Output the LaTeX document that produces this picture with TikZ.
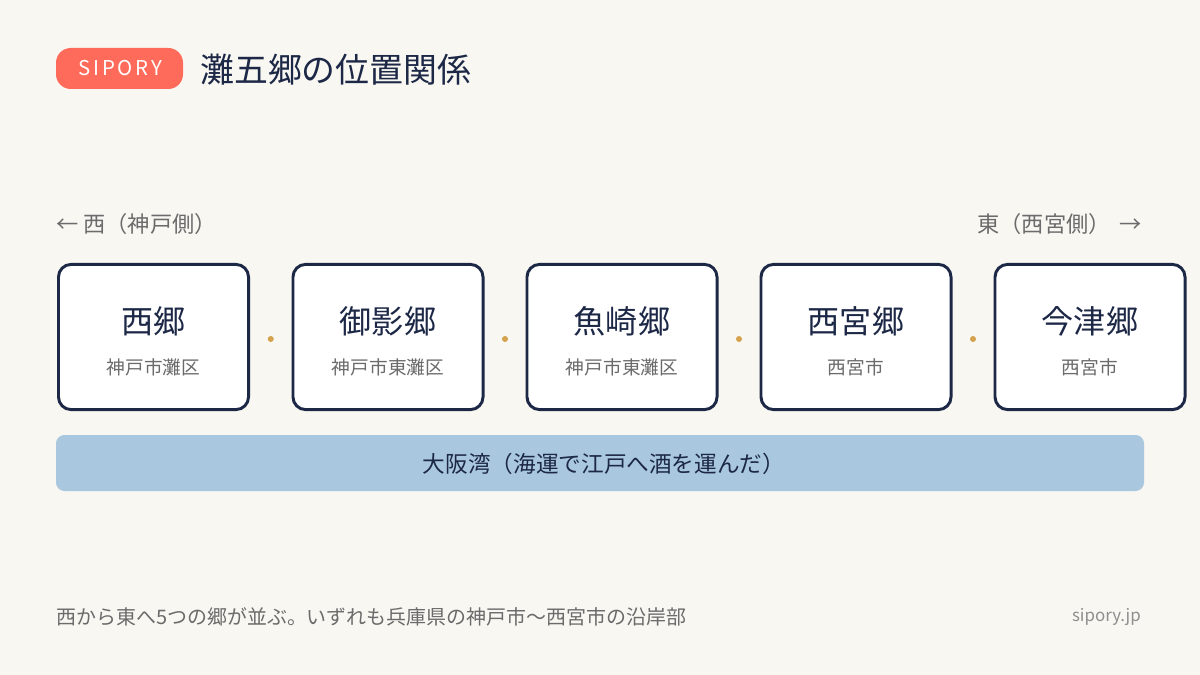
\documentclass[tikz,border=0pt]{standalone}
\usepackage{fontspec}
\setmainfont{Noto Sans CJK JP}
\usetikzlibrary{calc}
\definecolor{bgpaper}{HTML}{F9F7F2}
\definecolor{navy}{HTML}{1C2846}
\definecolor{coral}{HTML}{FF6B5A}
\definecolor{greytext}{HTML}{6B6B6B}
\definecolor{lightgrey}{HTML}{8E8E8E}
\definecolor{bay}{HTML}{A9C7DF}
\definecolor{gold}{HTML}{D4A24C}
\tikzset{
	gobox/.style={draw=navy, fill=white, line width=2.1pt, rounded corners=9pt, minimum width=4.75cm, minimum height=3.63cm},
	goname/.style={text=navy, font=\fontsize{22.8pt}{26pt}\selectfont},
	gosub/.style={text=greytext, font=\fontsize{13.3pt}{15pt}\selectfont},
	side/.style={text=greytext, font=\fontsize{15.8pt}{18pt}\selectfont},
}
\begin{document}
\begin{tikzpicture}[x=0.025cm, y=-0.025cm]
			%%%%% START %%%%%
			
			\useasboundingbox[fill=bgpaper] (0, 0) rectangle (1200, 675);
			
			% header
			\fill[coral, rounded corners=10.5pt] (56, 48) rectangle (183, 89);
			\node[text=white, font=\fontsize{14.5pt}{16pt}\selectfont\addfontfeatures{LetterSpace=14}] (brand) at (120.5, 68.5) {SIPORY};
			\node[anchor=west, text=navy, font=\fontsize{24.1pt}{27pt}\selectfont, inner sep=0pt] (title) at (200, 70) {灘五郷の位置関係};
			
			% west / east
			\node[side, anchor=west, inner sep=0pt] (west) at (56, 224) {←\ 西（神戸側）};
			\node[side, anchor=east, inner sep=0pt] (east) at (1142, 224) {東（西宮側）\ \,→};
			
			% the five go
			\node[gobox] (b1) at (153.5, 337) {};
			\node[goname] (n1) at (153.5, 321) {西郷};
			\node[gosub] (s1) at (153.5, 367) {神戸市灘区};
			
			\node[gobox] (b2) at (388, 337) {};
			\node[goname] (n2) at (388, 321) {御影郷};
			\node[gosub] (s2) at (388, 367) {神戸市東灘区};
			
			\node[gobox] (b3) at (622, 337) {};
			\node[goname] (n3) at (622, 321) {魚崎郷};
			\node[gosub] (s3) at (622, 367) {神戸市東灘区};
			
			\node[gobox] (b4) at (856, 337) {};
			\node[goname] (n4) at (856, 321) {西宮郷};
			\node[gosub] (s4) at (856, 367) {西宮市};
			
			\node[gobox] (b5) at (1090, 337) {};
			\node[goname] (n5) at (1090, 321) {今津郷};
			\node[gosub] (s5) at (1090, 367) {西宮市};
			
			% dots between
			\fill[gold] ($(b1.east)!0.5!(b2.west)+(0, 2)$) circle (3);
			\fill[gold] ($(b2.east)!0.5!(b3.west)+(0, 2)$) circle (3);
			\fill[gold] ($(b3.east)!0.5!(b4.west)+(0, 2)$) circle (3);
			\fill[gold] ($(b4.east)!0.5!(b5.west)+(0, 2)$) circle (3);
			
			% osaka bay
			\fill[bay, rounded corners=6pt] (56, 435) rectangle (1144, 491);
			\node[text=navy, font=\fontsize{16.1pt}{18pt}\selectfont] (bayname) at (604, 464) {大阪湾（海運で江戸へ酒を運んだ）};
			
			% footer
			\node[anchor=west, text=greytext, font=\fontsize{14.2pt}{16pt}\selectfont, inner sep=0pt] (note) at (56, 617) {西から東へ5つの郷が並ぶ。いずれも兵庫県の神戸市〜西宮市の沿岸部};
			\node[anchor=east, text=lightgrey, font=\fontsize{12pt}{14pt}\selectfont, inner sep=0pt] (site) at (1141, 617) {sipory.jp};
			
			%%%%% END %%%%%
\end{tikzpicture}
\end{document}
